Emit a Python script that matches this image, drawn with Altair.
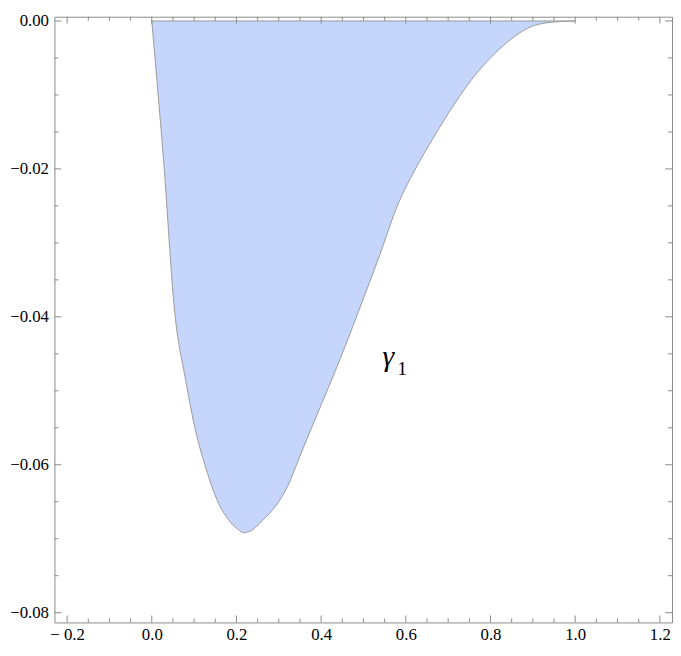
import altair as alt
import pandas as pd

# curve gamma_1 (lower boundary of the filled region)
xs = [0.0, 0.010, 0.029, 0.0525, 0.0805, 0.103, 0.127, 0.1575, 0.185, 0.205,
      0.216, 0.232, 0.26, 0.2975, 0.321, 0.35, 0.384, 0.449, 0.50, 0.538, 0.582,
      0.62, 0.666, 0.714, 0.764, 0.80, 0.841, 0.904, 0.958, 1.0]
ys = [0.0, -0.0066, -0.0197, -0.0384, -0.0487, -0.0553, -0.0603, -0.0652,
      -0.0677, -0.0688, -0.0692, -0.0690, -0.0676, -0.0652, -0.0629, -0.0588, -0.0541,
      -0.0451, -0.0375, -0.0317, -0.0247, -0.0203, -0.0157, -0.0113, -0.0073, -0.0050,
      -0.0028, -0.0006, -0.0001, 0.0]

x_major = [-0.2, 0.0, 0.2, 0.4, 0.6, 0.8, 1.0, 1.2]
x_minor = [-0.15, -0.1, -0.05, 0.05, 0.1, 0.15, 0.25, 0.3, 0.35, 0.45, 0.5, 0.55,
           0.65, 0.7, 0.75, 0.85, 0.9, 0.95, 1.05, 1.1, 1.15]
y_major = [0.0, -0.02, -0.04, -0.06, -0.08]
y_minor = [-0.005, -0.01, -0.015, -0.025, -0.03, -0.035, -0.045, -0.05, -0.055,
           -0.065, -0.07, -0.075]

top_x = [0.0]
top_x2 = [1.0]
top_y = [0.0]

label_text = "γ"
label_sub = "1"
label_x = [0.559]
label_y = [-0.0467]

W, H = 625, 613
x_dom = [-0.2299, 1.2287]
y_dom = [-0.08132, 0.000574]
FONT = "Times New Roman"
FRAME = "#8a8a8a"

curve = pd.DataFrame({"x": xs, "y": ys, "zero": [0.0] * len(xs)})

xs_ = alt.Scale(domain=x_dom, nice=False, zero=False)
ys_ = alt.Scale(domain=y_dom, nice=False, zero=False)

x_label_expr = "datum.value < -1e-9 ? '− ' + format(-datum.value, '.1f') : format(abs(datum.value), '.1f')"
y_label_expr = "datum.value < -1e-9 ? '−' + format(-datum.value, '.2f') : format(abs(datum.value), '.2f')"

area = alt.Chart(curve).mark_area(color="#c6d5fb", opacity=1, interpolate="monotone").encode(
    x=alt.X("x:Q", scale=xs_, axis=alt.Axis(values=x_major, labelExpr=x_label_expr, ticks=False,
                                           domain=False, grid=False, labelFont=FONT, labelFontSize=17,
                                           labelColor="black", labelPadding=4, title=None)),
    y=alt.Y("y:Q", scale=ys_, axis=alt.Axis(values=y_major, labelExpr=y_label_expr, ticks=False,
                                           domain=False, grid=False, labelFont=FONT, labelFontSize=17,
                                           labelColor="black", labelPadding=6, title=None)),
    y2="zero:Q",
)

line = alt.Chart(curve).mark_line(color="#9a9a9a", strokeWidth=1, interpolate="monotone").encode(
    x=alt.X("x:Q", scale=xs_), y=alt.Y("y:Q", scale=ys_)
)

top = alt.Chart(pd.DataFrame({"x": top_x, "x2": top_x2, "y": top_y})).mark_rule(
    color="#9a9a9a", strokeWidth=1).encode(
    x=alt.X("x:Q", scale=xs_), x2="x2:Q", y=alt.Y("y:Q", scale=ys_)
)


def xticks(vals, length):
    df = pd.DataFrame({"v": vals})
    b = alt.Chart(df).mark_rule(color=FRAME, strokeWidth=1).encode(
        x=alt.X("v:Q", scale=xs_), y=alt.value(H), y2=alt.value(H - length))
    t = alt.Chart(df).mark_rule(color=FRAME, strokeWidth=1).encode(
        x=alt.X("v:Q", scale=xs_), y=alt.value(0), y2=alt.value(length))
    return [b, t]


def yticks(vals, length):
    df = pd.DataFrame({"v": vals})
    l = alt.Chart(df).mark_rule(color=FRAME, strokeWidth=1).encode(
        y=alt.Y("v:Q", scale=ys_), x=alt.value(0), x2=alt.value(length))
    r = alt.Chart(df).mark_rule(color=FRAME, strokeWidth=1).encode(
        y=alt.Y("v:Q", scale=ys_), x=alt.value(W), x2=alt.value(W - length))
    return [l, r]


lab_df = pd.DataFrame({"x": label_x, "y": label_y})
gamma = alt.Chart(lab_df).mark_text(font=FONT, fontSize=30, fontStyle="italic", align="center",
                                    baseline="alphabetic").encode(
    x=alt.X("x:Q", scale=xs_), y=alt.Y("y:Q", scale=ys_), text=alt.value(label_text))
sub = alt.Chart(lab_df).mark_text(font=FONT, fontSize=19, align="center", baseline="alphabetic",
                                  dx=14, dy=9).encode(
    x=alt.X("x:Q", scale=xs_), y=alt.Y("y:Q", scale=ys_), text=alt.value(label_sub))

layers = [area, line, top] + xticks(x_major, 7) + xticks(x_minor, 4) + \
    yticks(y_major, 7) + yticks(y_minor, 4) + [gamma, sub]

chart = alt.layer(*layers).properties(
    width=W, height=H,
    padding={"left": 1, "top": 0, "right": 0, "bottom": 0},
).configure(font=FONT).configure_axis(labelFont=FONT).configure_text(font=FONT).configure_view(
    stroke=FRAME, strokeWidth=1)

chart.save("out.html", embed_options={"renderer": "svg", "actions": False})
